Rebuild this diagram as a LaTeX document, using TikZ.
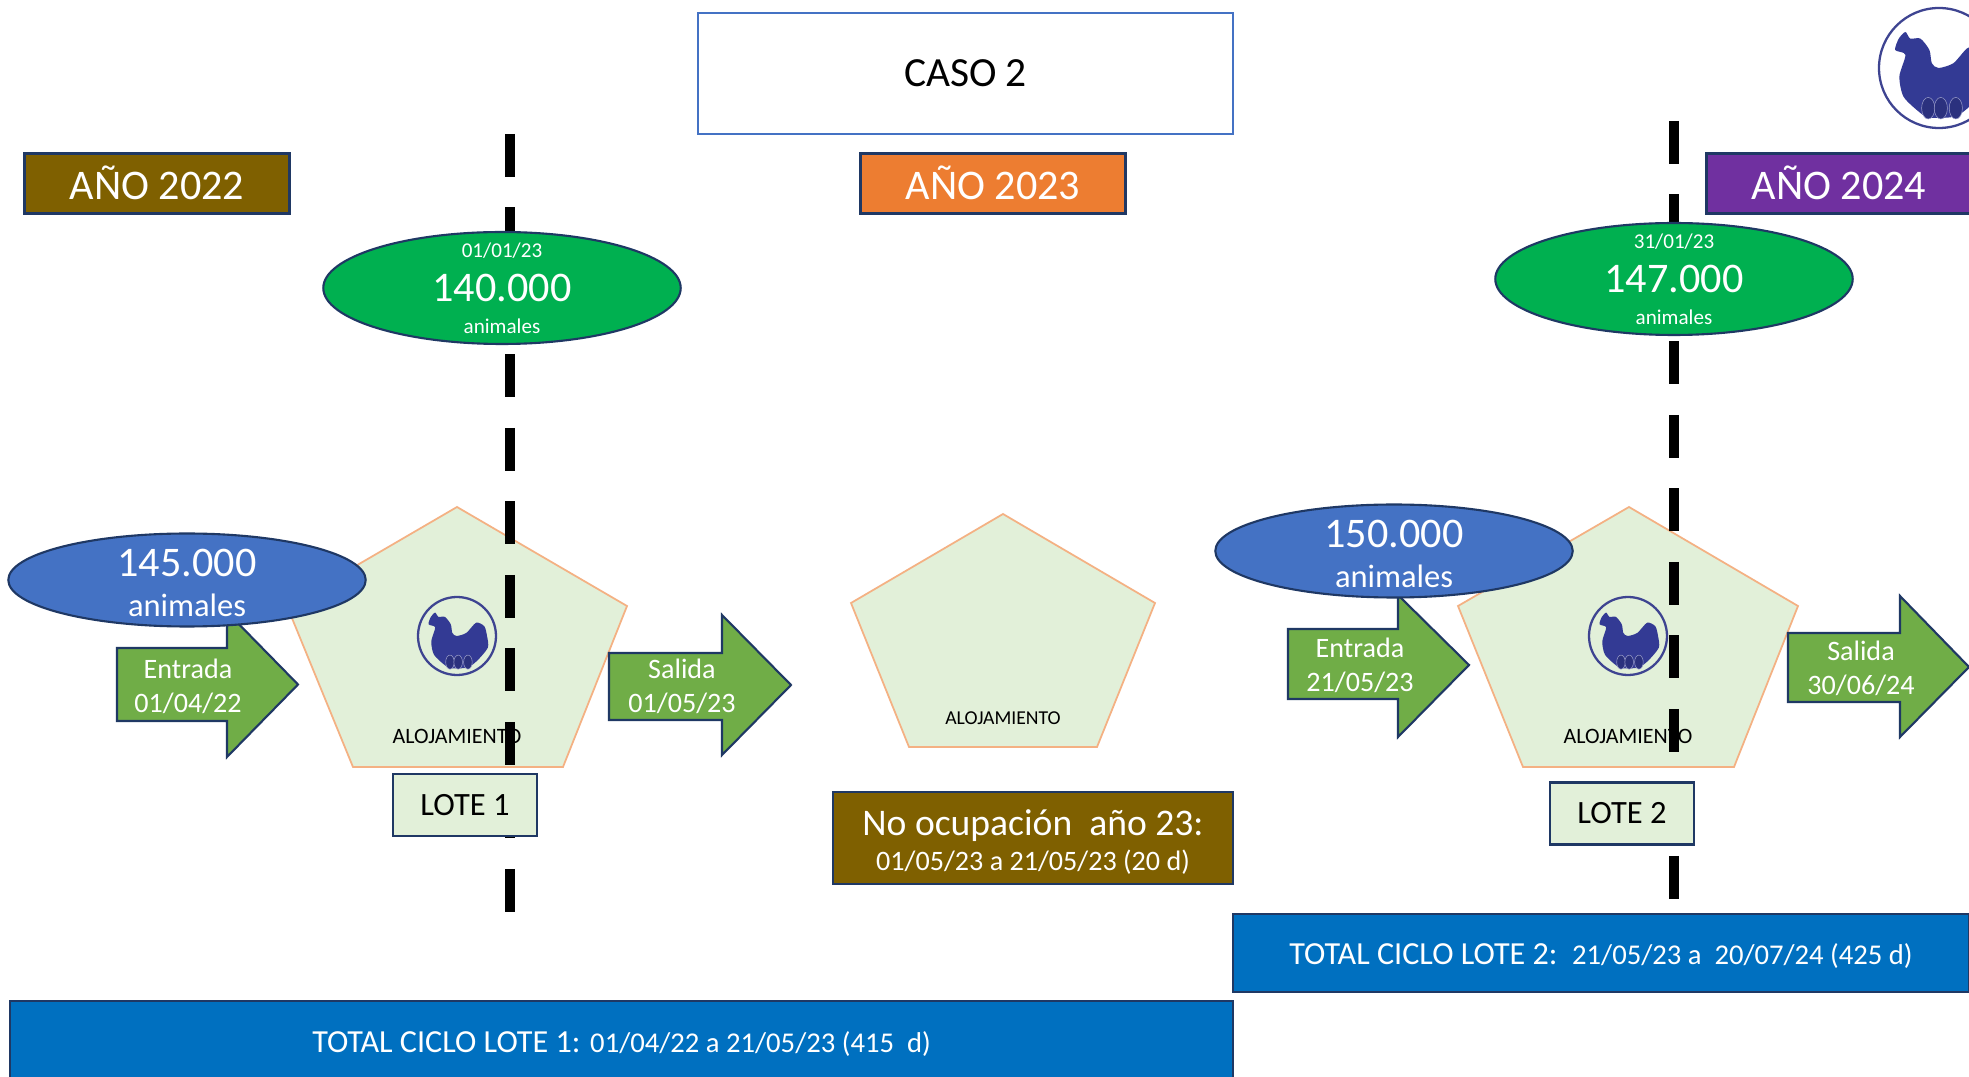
\documentclass[tikz,border=0pt]{standalone}
\usepackage{fontspec}
\usetikzlibrary{shapes.geometric}
\setmainfont{Carlito}
\definecolor{brownbox}{HTML}{7F6000}
\definecolor{orangebox}{HTML}{ED7D31}
\definecolor{purplebox}{HTML}{7030A0}
\definecolor{greenoval}{HTML}{00B050}
\definecolor{blueoval}{HTML}{4472C4}
\definecolor{arrowgreen}{HTML}{70AD47}
\definecolor{housefill}{HTML}{E2F0D9}
\definecolor{houseline}{HTML}{F4B183}
\definecolor{darkline}{HTML}{1F3864}
\definecolor{totalblue}{HTML}{0070C0}
\definecolor{henblue}{HTML}{333A94}
\newcommand{\fsize}[1]{\fontsize{#1}{#1}\selectfont}
\newcommand{\henlogo}[3]{
        \begin{scope}[shift={(#1,#2)},scale=#3,yscale=-1]
        \draw [henblue!85!gray,line width=1.3pt] (0,0) circle (1);
        \fill [henblue] plot [smooth cycle,tension=0.45] coordinates {(-.73,.30) (-.67,.49) (-.56,.60) (-.48,.49) (-.31,.49) (-.16,.30) (-.12,.08) (-.01,0) (.24,.08) (.49,.34) (.7,.25) (.77,0) (.79,-.3) (.51,-.64) (.26,-.81) (-.15,-.83) (-.31,-.75) (-.59,-.48) (-.66,-.14) (-.56,.22)};
        \draw [fill=henblue!85!black,draw=henblue!50!white,line width=0.3pt] (-.18,-.67) ellipse (.11 and .18);
        \draw [fill=henblue!85!black,draw=henblue!50!white,line width=0.3pt] (.03,-.67) ellipse (.11 and .18);
        \draw [fill=henblue!85!black,draw=henblue!50!white,line width=0.3pt] (.28,-.67) ellipse (.11 and .18);
        \end{scope}
}
\begin{document}
\begin{tikzpicture}[x=0.02cm,y=-0.02cm]
        \tikzstyle{yearbox}=[draw=darkline,line width=1.2pt,minimum width=5.3cm,minimum height=1.2cm,text=white,text depth=0.05cm,font=\fsize{24}]
        \tikzstyle{oval}=[ellipse,draw=darkline,line width=1.2pt,minimum width=7.15cm,text=white,align=center,inner sep=0pt]
        \tikzstyle{house}=[fill=housefill,draw=houseline,line width=1pt,line join=miter]
        \tikzstyle{arrowshape}=[fill=arrowgreen,draw=darkline,line width=1.2pt,line join=miter]
        \tikzstyle{arrowtext}=[text=white,align=center,font=\fontsize{16}{19.5}\selectfont]
        \tikzstyle{lotbox}=[fill=housefill,draw=darkline,line width=1.2pt,minimum width=2.88cm,minimum height=1.24cm,font=\fsize{18.5}]
        \tikzstyle{housetext}=[font=\fsize{12.5}]
        \tikzstyle{totalbox}=[fill=totalblue,draw=darkline,line width=1.2pt,text=white,text height=0.52cm]
        \tikzstyle{cut}=[line width=0.2cm,dash pattern=on 0.86cm off 0.61cm]
        \clip (0,0) rectangle (1969,1077);
        \fill [white] (0,0) rectangle (1969,1077);
        \node [draw=blueoval,line width=1.2pt,minimum width=10.7cm,minimum height=2.42cm,font=\fsize{23.6}] (caso) at (965.5,73.5) {CASO 2};
        \henlogo{1939}{68}{60}
        \node [yearbox,fill=brownbox] (y22) at (157,183.5) {AÑO 2022};
        \node [yearbox,fill=orangebox] (y23) at (993,183.5) {AÑO 2023};
        \node [yearbox,fill=purplebox] (y24) at (1839,183.5) {AÑO 2024};
        \draw [house] (457,507) -- (627,606) -- (563,767) -- (353,767) -- (287,606) -- cycle;
        \draw [house] (1003,514) -- (1155,603) -- (1097,747) -- (909,747) -- (851,603) -- cycle;
        \draw [house] (1629,507) -- (1798,606) -- (1734,767) -- (1523,767) -- (1458,606) -- cycle;
        \henlogo{457}{636}{39}
        \henlogo{1628}{636}{39}
        \node [housetext] (aloja1) at (457,736) {ALOJAMIENTO};
        \node [housetext,font=\fsize{11.2}] (aloja2) at (1003,718) {ALOJAMIENTO};
        \node [housetext] (aloja3) at (1628,736) {ALOJAMIENTO};
        \coordinate (cut1a) at (510,134);
        \coordinate (cut1b) at (510,912);
        \coordinate (cut2a) at (1674,121);
        \coordinate (cut2b) at (1674,899);
        \draw [cut] (cut1a) -- (cut1b);
        \draw [cut] (cut2a) -- (cut2b);
        \node [lotbox] (lote1) at (465,805) {LOTE 1};
        \node [lotbox] (lote2) at (1622,813.5) {LOTE 2};
        \draw [arrowshape] (117,648) -- (227,648) -- (227,612) -- (298,684.5) -- (227,757) -- (227,721) -- (117,721) -- cycle;
        \node [arrowtext] (entrada1) at (188,686) {Entrada\\01/04/22};
        \draw [arrowshape] (609,653) -- (722,653) -- (722,615) -- (791,685) -- (722,755) -- (722,720) -- (609,720) -- cycle;
        \node [arrowtext] (salida1) at (682,686) {Salida\\01/05/23};
        \draw [arrowshape] (1288,629) -- (1398,629) -- (1398,595) -- (1469,665) -- (1398,737) -- (1398,699) -- (1288,699) -- cycle;
        \node [arrowtext] (entrada2) at (1360,665) {Entrada\\21/05/23};
        \draw [arrowshape] (1788,633) -- (1900,633) -- (1900,596) -- (1969,667) -- (1900,737) -- (1900,702) -- (1788,702) -- cycle;
        \node [arrowtext] (salida2) at (1861,668) {Salida\\30/06/24};
        \node [oval,fill=greenoval,minimum height=2.24cm,inner ysep=-0.12cm] (stock1) at (502,288) {{\fsize{12}01/01/23}\\[8pt]{\fsize{24}140.000}\\[6pt]{\fsize{12}animales}};
        \node [oval,fill=greenoval,minimum height=2.24cm,inner ysep=-0.12cm] (stock2) at (1674,279) {{\fsize{12}31/01/23}\\[8pt]{\fsize{24}147.000}\\[6pt]{\fsize{12}animales}};
        \node [oval,fill=blueoval,minimum height=1.86cm,inner ysep=-0.11cm] (entra1) at (187,580) {\rule{0pt}{19pt}{\fsize{24}145.000}\\[9pt]{\fsize{18.5}animales}};
        \node [oval,fill=blueoval,minimum height=1.86cm,inner ysep=-0.11cm] (entra2) at (1394,551) {\rule{0pt}{19pt}{\fsize{24}150.000}\\[9pt]{\fsize{18.5}animales}};
        \node [fill=brownbox,draw=darkline,line width=1.2pt,minimum width=8cm,minimum height=1.84cm,text=white,align=center] (vacio) at (1033,838) {\rule{0pt}{19.5pt}{\fsize{21.4}No ocupación\ \ año 23:}\\[4pt]{\fsize{16}01/05/23 a 21/05/23 (20 d)}};
        \node [totalbox,minimum width=14.72cm,minimum height=1.56cm] (total2) at (1601,953) {\fsize{18.3}TOTAL CICLO LOTE 2:\ \ {\fsize{16.3}21/05/23 a\ \ 20/07/24 (425 d)}};
        \node [totalbox,minimum width=24.46cm,minimum height=1.6cm] (total1) at (621.5,1041) {\fsize{18.3}TOTAL CICLO LOTE 1: {\fsize{16.3}01/04/22 a 21/05/23 (415\ \ d)}};
\end{tikzpicture}
\end{document}
